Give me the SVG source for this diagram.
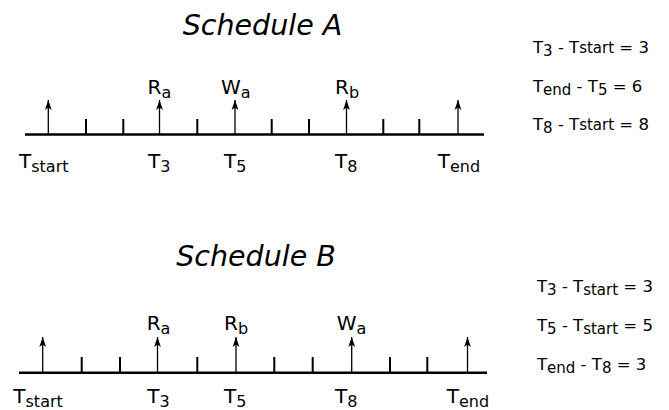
<svg xmlns="http://www.w3.org/2000/svg" width="669" height="410" viewBox="0 0 669 410">
  <style>
    text { font-family: "DejaVu Sans", "Liberation Sans", sans-serif; fill: #000; }
    .title { font-size: 28.5px; font-style: italic; text-anchor: middle; }
    .lbl { font-size: 20px; }
    .eq { font-size: 16.5px; }
    .sub { font-size: 16px; }
    .esub { font-size: 15px; }
    .axis { stroke: #000; stroke-width: 2.4; fill: none; }
    .tick { stroke: #000; stroke-width: 2; fill: none; }
    .arr { stroke: #000; stroke-width: 1.3; fill: none; marker-end: url(#ah); }
  </style>
  <defs>
    <marker id="ah" markerUnits="userSpaceOnUse" viewBox="-11 -4 12 8" refX="0" refY="0" markerWidth="12" markerHeight="8" orient="auto" overflow="visible">
      <path d="M0,0 L-10,-3.4 L-7.5,0 L-10,3.4 z" fill="#000"/>
    </marker>
  </defs>

  <!-- Schedule A -->
  <g id="scheduleA">
    <text class="title" x="262.5" y="35">Schedule A</text>
    <g id="axisA">
      <line class="axis" x1="25" y1="134.5" x2="484" y2="134.5"/>
      <path class="tick" d="M86,134 V119 M123.3,134 V119 M197.3,134 V119 M271.7,134 V119 M309,134 V119 M383.3,134 V119 M419.3,134 V119"/>
    </g>
    <g id="connectorsA">
      <line class="arr" x1="48.3" y1="134" x2="48.3" y2="100"/>
      <line class="arr" x1="159.5" y1="134" x2="159.5" y2="100"/>
      <line class="arr" x1="235" y1="134" x2="235" y2="100"/>
      <line class="arr" x1="346.5" y1="134" x2="346.5" y2="100"/>
      <line class="arr" x1="458" y1="134" x2="458" y2="100"/>
    </g>
    <g id="labelsA">
      <text class="lbl" x="147.5" y="94">R<tspan class="sub" dy="4">a</tspan></text>
      <text class="lbl" x="221" y="94">W<tspan class="sub" dy="4">a</tspan></text>
      <text class="lbl" x="335" y="94">R<tspan class="sub" dy="4">b</tspan></text>
      <text class="lbl" x="19" y="168">T<tspan class="sub" dy="4">start</tspan></text>
      <text class="lbl" x="148" y="168">T<tspan class="sub" dy="4">3</tspan></text>
      <text class="lbl" x="224" y="168">T<tspan class="sub" dy="4">5</tspan></text>
      <text class="lbl" x="335" y="168">T<tspan class="sub" dy="4">8</tspan></text>
      <text class="lbl" x="437.7" y="168">T<tspan class="sub" dy="4">end</tspan></text>
    </g>
    <g id="equationsA">
      <text class="eq" x="533" y="53">T<tspan class="esub" dy="3">3</tspan><tspan dy="-3"> - T</tspan><tspan class="esub">start</tspan> = 3</text>
      <text class="eq" x="533" y="92">T<tspan class="esub" dy="3">end</tspan><tspan dy="-3"> - T</tspan><tspan class="esub" dy="3">5</tspan><tspan dy="-3"> = 6</tspan></text>
      <text class="eq" x="533" y="130">T<tspan class="esub" dy="3">8</tspan><tspan dy="-3"> - T</tspan><tspan class="esub">start</tspan> = 8</text>
    </g>
  </g>

  <!-- Schedule B -->
  <g id="scheduleB">
    <text class="title" x="256" y="266">Schedule B</text>
    <g id="axisB">
      <line class="axis" x1="19" y1="372.7" x2="487" y2="372.7"/>
      <path class="tick" d="M81.7,372 V357 M120,372 V357 M197.3,372 V357 M274.3,372 V357 M312.7,372 V357 M390,372 V357 M427.3,372 V357"/>
    </g>
    <g id="connectorsB">
      <line class="arr" x1="42.7" y1="372" x2="42.7" y2="337"/>
      <line class="arr" x1="157.5" y1="372" x2="157.5" y2="337"/>
      <line class="arr" x1="236" y1="372" x2="236" y2="337"/>
      <line class="arr" x1="351.7" y1="372" x2="351.7" y2="337"/>
      <line class="arr" x1="467.5" y1="372" x2="467.5" y2="337"/>
    </g>
    <g id="labelsB">
      <text class="lbl" x="146.7" y="330">R<tspan class="sub" dy="4">a</tspan></text>
      <text class="lbl" x="224" y="330">R<tspan class="sub" dy="4">b</tspan></text>
      <text class="lbl" x="336.7" y="330">W<tspan class="sub" dy="4">a</tspan></text>
      <text class="lbl" x="13.3" y="403">T<tspan class="sub" dy="4">start</tspan></text>
      <text class="lbl" x="147.3" y="403">T<tspan class="sub" dy="4">3</tspan></text>
      <text class="lbl" x="224" y="403">T<tspan class="sub" dy="4">5</tspan></text>
      <text class="lbl" x="335" y="403">T<tspan class="sub" dy="4">8</tspan></text>
      <text class="lbl" x="446.7" y="403">T<tspan class="sub" dy="4">end</tspan></text>
    </g>
    <g id="equationsB">
      <text class="eq" x="537" y="292">T<tspan class="esub" dy="3">3</tspan><tspan dy="-3"> - T</tspan><tspan class="esub" dy="3">start</tspan><tspan dy="-3"> = 3</tspan></text>
      <text class="eq" x="537" y="331">T<tspan class="esub" dy="3">5</tspan><tspan dy="-3"> - T</tspan><tspan class="esub" dy="3">start</tspan><tspan dy="-3"> = 5</tspan></text>
      <text class="eq" x="537" y="370">T<tspan class="esub" dy="3">end</tspan><tspan dy="-3"> - T</tspan><tspan class="esub" dy="3">8</tspan><tspan dy="-3"> = 3</tspan></text>
    </g>
  </g>
</svg>
